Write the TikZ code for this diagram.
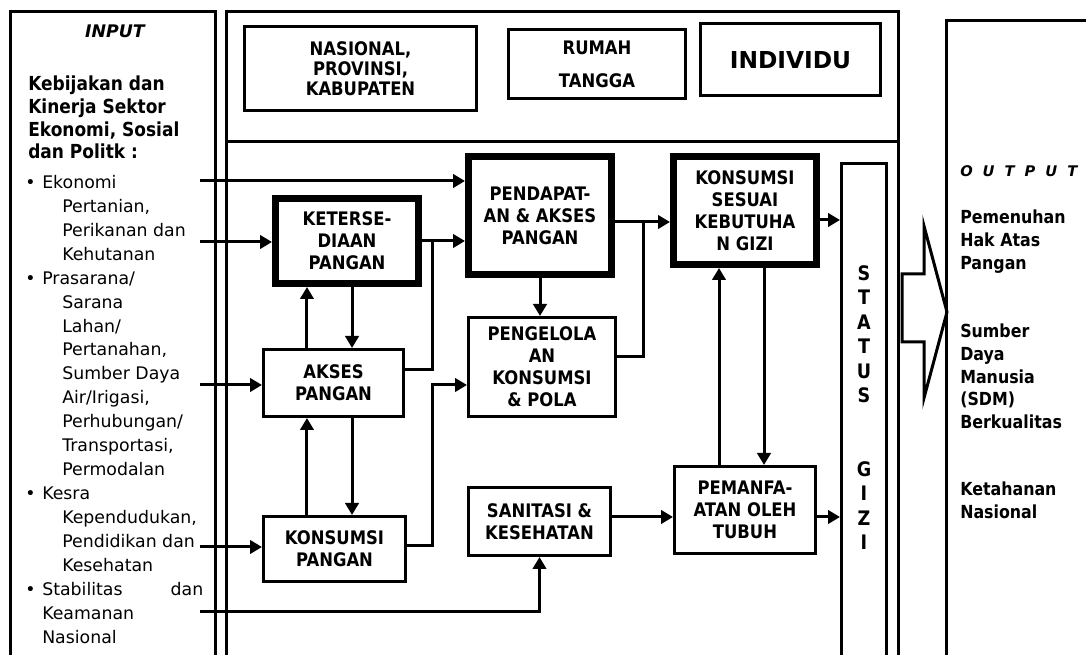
\documentclass[tikz,border=0pt]{standalone}
\usepackage{fontspec}
\setmainfont{DejaVu Sans}
\newfontfamily\padat[FakeStretch=0.88]{DejaVu Sans}
\usepackage{tikz}
\usetikzlibrary{arrows.meta}
\newcommand{\bul}{\makebox[12.75pt][l]{\textbullet}}
\newcommand{\ind}{\hspace*{27.75pt}}
\newcommand{\jarak}{\hspace*{7.5pt}}
\tikzset{
  blok/.style={draw, line width=2.25pt, align=center, inner sep=0pt,
    font=\padat\bfseries\fontsize{14pt}{16.5pt}\selectfont},
  tebal/.style={blok, line width=5.25pt},
  panah/.style={line width=2.25pt, -{Triangle[length=9pt,width=10pt]}},
  garis/.style={line width=2.25pt},
  bingkai/.style={line width=2.25pt},
  teks/.style={anchor=north west, inner sep=0pt, align=left},
}

\begin{document}
\begin{tikzpicture}[x=0.75pt,y=-0.75pt]
\useasboundingbox (0,0) rectangle (1086,655);
\clip (0,0) rectangle (1086,655);

% bingkai
\draw[bingkai] (10,12) rectangle (215,680);
\draw[bingkai] (226,12) rectangle (898,142);
\draw[bingkai] (226,142) rectangle (898,680);
\draw[bingkai] (946,21) rectangle (1100,680);

% input
\node (input) at (115,31) [font=\bfseries\itshape\fontsize{13pt}{16pt}\selectfont] {INPUT};
\node (kebijakan) at (28,76) [teks, font=\padat\bfseries\fontsize{14.5pt}{17pt}\selectfont]
  {Kebijakan dan\\Kinerja Sektor\\Ekonomi, Sosial\\dan Politk :};
\node (daftar) at (25,175) [teks, font=\fontsize{13pt}{17.95pt}\selectfont]
  {\bul Ekonomi\\ \ind Pertanian,\\ \ind Perikanan dan\\ \ind Kehutanan\\
   \bul Prasarana/\\ \ind Sarana\\ \ind Lahan/\\ \ind Pertanahan,\\ \ind Sumber Daya\\
   \ind Air/Irigasi,\\ \ind Perhubungan/\\ \ind Transportasi,\\ \ind Permodalan\\
   \bul Kesra\\ \ind Kependudukan,\\ \ind Pendidikan dan\\ \ind Kesehatan\\
   \bul\makebox[120.75pt][l]{Stabilitas\hfill dan}\\
   \hspace*{12.75pt}Keamanan\\ \hspace*{12.75pt}Nasional};

% tingkat
\node[blok, minimum width=174pt, minimum height=63pt,
  font=\padat\bfseries\fontsize{14pt}{15pt}\selectfont] (nas) at (360.5,68.5) {NASIONAL,\\PROVINSI,\\KABUPATEN};
\node[blok, minimum width=132.75pt, minimum height=51.75pt,
  font=\padat\bfseries\fontsize{14pt}{24.75pt}\selectfont] (rumah) at (597,64) {RUMAH\\TANGGA};
\node[blok, minimum width=135pt, minimum height=54pt,
  font=\bfseries\fontsize{17.5pt}{20pt}\selectfont] (indiv) at (790.5,60) {INDIVIDU};

% kotak
\node[tebal, minimum width=107.25pt, minimum height=63.75pt] (ket) at (347,241) {KETERSE-\\DIAAN\\PANGAN};
\node[tebal, minimum width=107.25pt, minimum height=88.5pt] (pend) at (540,215.5) {PENDAPAT-\\AN \& AKSES\\PANGAN};
\node[tebal, minimum width=107.25pt, minimum height=81pt] (ksg) at (745,210.5) {KONSUMSI\\SESUAI\\KEBUTUHA\\N GIZI};
\node[blok, minimum width=105pt, minimum height=50.25pt] (akses) at (333.5,383) {AKSES\\PANGAN};
\node[blok, minimum width=106.5pt, minimum height=48.75pt] (kp) at (334.5,549) {KONSUMSI\\PANGAN};
\node[blok, minimum width=110.25pt, minimum height=74.25pt] (kelola) at (542,367) {PENGELOLA\\AN\\KONSUMSI\\\& POLA};
\node[blok, minimum width=106.5pt, minimum height=51pt] (sani) at (539.5,521.5) {SANITASI \&\\KESEHATAN};
\node[blok, minimum width=105.75pt, minimum height=65.25pt] (manfaat) at (745,510) {PEMANFA-\\ATAN OLEH\\TUBUH};
\node[blok, minimum width=33.75pt, minimum height=387.4pt] (status) at (864,421.75) {};
\node (gizi) at (864,265) [anchor=north, inner sep=0pt, align=center,
  font=\padat\bfseries\fontsize{15pt}{18.4pt}\selectfont] {S\\T\\A\\T\\U\\S\\[36.8pt]G\\I\\Z\\I};

% output
\draw[line width=2.25pt] (902,274) -- (924,274) -- (924,226) -- (947,312) -- (924,398) -- (924,342) -- (902,342) -- cycle;
\node (output) at (960,177) [anchor=base west, inner sep=0pt,
  font=\bfseries\itshape\fontsize{11pt}{13pt}\selectfont] {O\jarak U\jarak T\jarak P\jarak U\jarak T};
\node (hak) at (960,210) [teks, font=\padat\bfseries\fontsize{13.5pt}{16.9pt}\selectfont] {Pemenuhan\\Hak Atas\\Pangan};
\node (sdm) at (960,324) [teks, font=\padat\bfseries\fontsize{13.5pt}{16.9pt}\selectfont] {Sumber\\Daya\\Manusia\\(SDM)\\Berkualitas};
\node (tahan) at (960,482) [teks, font=\padat\bfseries\fontsize{13.5pt}{16.9pt}\selectfont] {Ketahanan\\Nasional};

% panah
\coordinate (in1) at (200,181);
\coordinate (in2) at (200,242);
\coordinate (in3) at (200,385);
\coordinate (in4) at (200,547);
\coordinate (in5) at (200,612);
\coordinate (j1) at (432,241);
\coordinate (j2) at (432,385);
\coordinate (j3) at (643,222);
\coordinate (s1) at (830,220);
\coordinate (s2) at (640,517);

\draw[panah] (in1) -- (in1 -| pend.west);
\draw[panah] (in2) -- (in2 -| ket.west);
\draw[panah] (in3) -- (in3 -| akses.west);
\draw[panah] (in4) -- (in4 -| kp.west);
\draw[panah] (in5) -| (sani.south);

\draw[panah] (ket.east) -- (ket.east -| pend.west);
\draw[garis] (akses.east) ++(0,-13) -| (j1);
\draw[panah] (kp.east) ++(0,-3) -| (j2) -- (j2 -| kelola.west);
\draw[panah] (pend.south) -- (pend.south |- kelola.north);
\draw[panah] (pend.east |- j3) -- (j3 -| ksg.west);
\draw[garis] (kelola.east) ++(0,-10) -| (j3);
\draw[panah] (ksg.east |- s1) -- (s1 -| status.west);

\draw[panah] ([xshift=-19.9pt]akses.north) -- ([xshift=-19.9pt]akses.north |- ket.south);
\draw[panah] ([xshift=13.9pt]akses.north |- ket.south) -- ([xshift=13.9pt]akses.north);
\draw[panah] ([xshift=-19.9pt]akses.south |- kp.north) -- ([xshift=-19.9pt]akses.south);
\draw[panah] ([xshift=13.9pt]akses.south) -- ([xshift=13.9pt]akses.south |- kp.north);

\draw[panah] ([xshift=-19.5pt]manfaat.north) -- ([xshift=-19.5pt]manfaat.north |- ksg.south);
\draw[panah] ([xshift=14.25pt]ksg.south) -- ([xshift=14.25pt]ksg.south |- manfaat.north);
\draw[panah] (sani.east |- s2) -- (s2 -| manfaat.west);
\draw[panah] (manfaat.east |- s2) -- (s2 -| status.west);
\end{tikzpicture}
\end{document}
